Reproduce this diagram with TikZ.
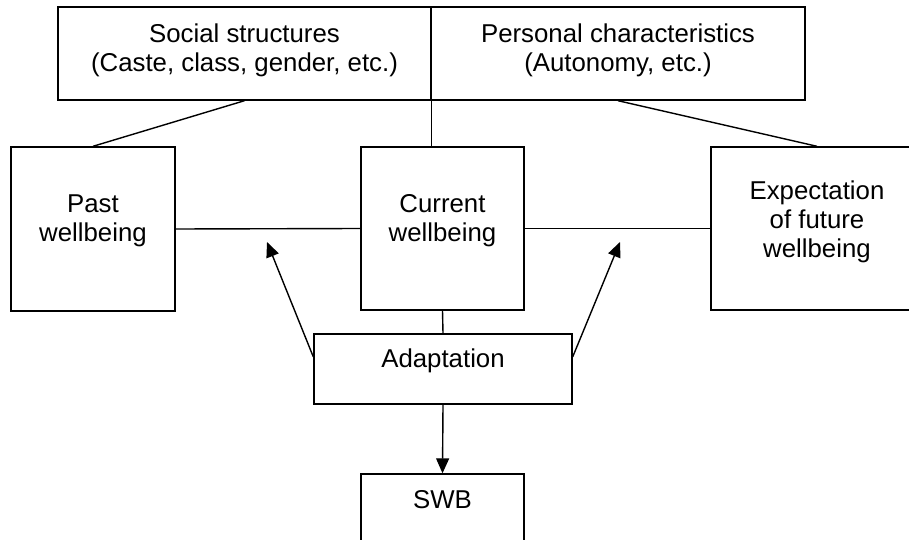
\documentclass[tikz,border=0pt]{standalone}
\usepackage{fontspec}
\setmainfont{Liberation Sans}
\usetikzlibrary{arrows.meta,calc}
\begin{document}
\begin{tikzpicture}[x=1pt,y=-1pt,
  box/.style={draw,line width=1.4pt,rectangle,inner sep=0pt},
  txt/.style={align=center,inner sep=0pt,font=\fontsize{25.8}{29}\selectfont},
  conn/.style={line width=1.4pt},
  arr/.style={line width=1.4pt,-{Triangle[length=15pt,width=13pt]}}]
\useasboundingbox (0,0) rectangle (909,540);
\clip (0,0) rectangle (909,540);
% boxes
\node[box,minimum width=373pt,minimum height=93pt] (topL) at (244.5,53.5) {};
\node[box,minimum width=374pt,minimum height=93pt] (topR) at (618,53.5) {};
\node[box,minimum width=164pt,minimum height=164pt] (past) at (93,229) {};
\node[box,minimum width=163pt,minimum height=163pt] (cur) at (442.5,228.5) {};
\node[box,minimum width=212pt,minimum height=163pt] (exp) at (817,228.5) {};
\node[box,minimum width=258pt,minimum height=70pt] (adapt) at (443,369) {};
\node[box,minimum width=163pt,minimum height=140pt] (swb) at (442.5,544) {};
% texts
\node[txt] (tL) at (244.5,50) {Social structures\\(Caste, class, gender, etc.)};
\node[txt] (tR) at (618,50) {Personal characteristics\\(Autonomy, etc.)};
\node[txt] (tPast) at (93,221) {Past\\wellbeing};
\node[txt] (tCur) at (442.5,221) {Current\\wellbeing};
\node[txt] (tExp) at (817,222) {Expectation\\of future\\wellbeing};
\node[txt] (tAd) at (443,361) {Adaptation};
\node[txt] (tSwb) at (442.5,500) {SWB};
% connectors
\coordinate (tipL) at (267,242);
\coordinate (tipR) at (620,242);
\coordinate (aL) at ($(adapt.north west)!0.33!(adapt.south west)$);
\coordinate (aR) at ($(adapt.north east)!0.33!(adapt.south east)$);
\draw[conn] (topL.north east) -- (topL.north east |- cur.north);
\draw[conn] (topL.south) -- (past.north);
\draw[conn] (topR.south) -- (exp.north);
\draw[conn] (past.east) -- (cur.west);
\draw[conn] (cur.east) -- (exp.west);
\draw[conn] (cur.south) -- (adapt.north);
\draw[arr] (adapt.south) -- (swb.north);
\draw[arr] (aL) -- (tipL);
\draw[arr] (aR) -- (tipR);
\end{tikzpicture}
\end{document}
